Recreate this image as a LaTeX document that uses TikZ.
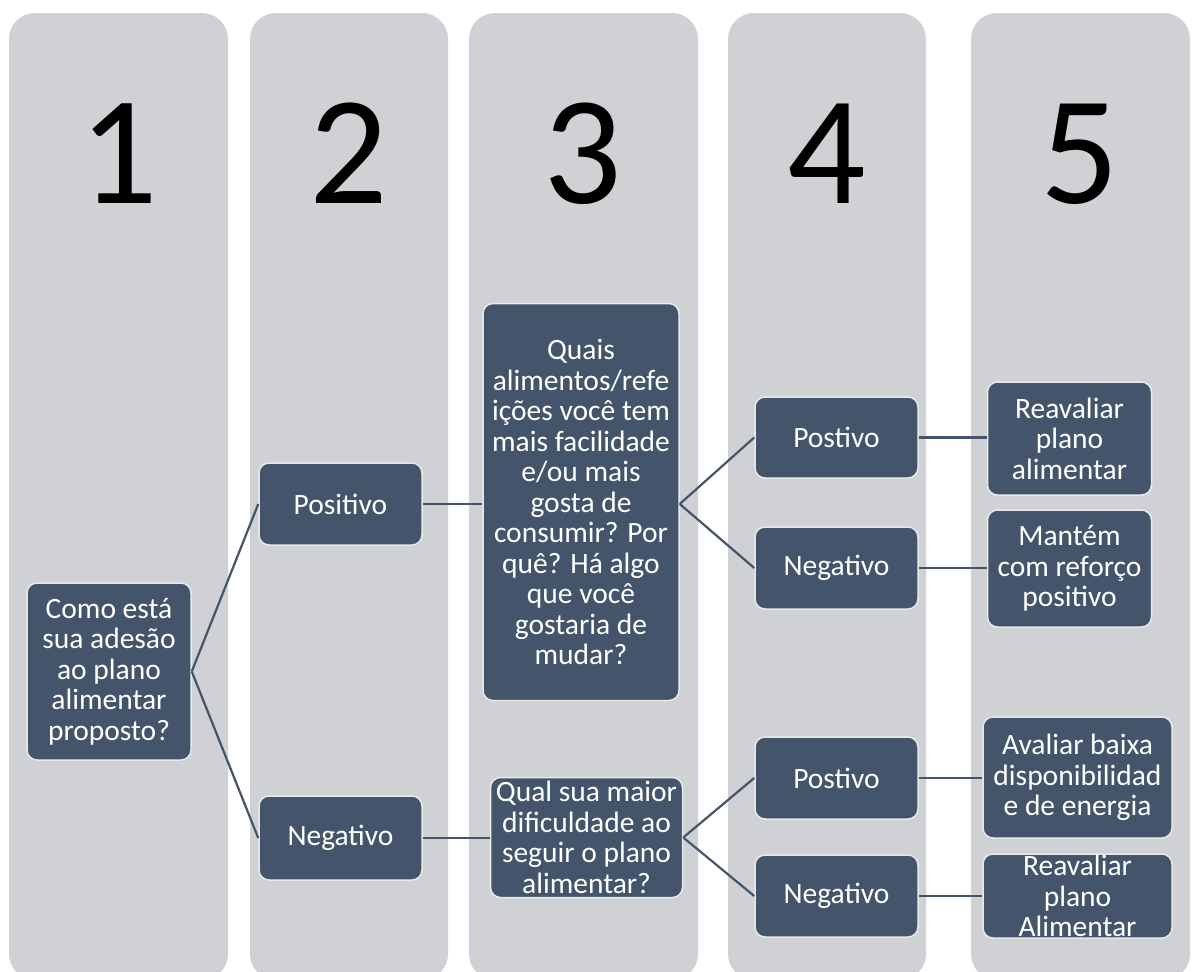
\documentclass[tikz,border=0pt]{standalone}
\usepackage{fontspec}
\setmainfont{Carlito}
\definecolor{lanebg}{RGB}{208,209,213}
\definecolor{boxfill}{HTML}{44546A}
\definecolor{boxedge}{RGB}{232,233,235}
\begin{document}
\begin{tikzpicture}[x=1pt,y=-1pt,
  lane/.style={fill=lanebg,draw=none,rounded corners=26pt},
  digit/.style={anchor=base,font=\fontsize{155}{155}\selectfont,text=black,inner sep=0pt},
  box/.style={fill=boxfill,draw=boxedge,line width=1.5pt,rounded corners=10pt,
    text=white,align=center,inner sep=0pt,font=\fontsize{29.5}{30.5}\selectfont},
  link/.style={draw=boxfill,line width=2.2pt}]
\useasboundingbox (0,0) rectangle (1195,972);

% columns
\fill[lane] (9,13) rectangle (228,980);
\fill[lane] (250,13) rectangle (448,980);
\fill[lane] (469,13) rectangle (698,980);
\fill[lane] (728,13) rectangle (926,980);
\fill[lane] (971,13) rectangle (1190,980);

% column numbers
\node[digit] (d1) at (119,203) {1};
\node[digit] (d2) at (349,203) {2};
\node[digit] (d3) at (583,203) {3};
\node[digit] (d4) at (827,203) {4};
\node[digit] (d5) at (1080,203) {5};

% boxes
\node[box,minimum width=164pt,minimum height=177pt] (q1) at (109,671.5)
  {Como está\\sua adesão\\ao plano\\alimentar\\proposto?};
\node[box,minimum width=163pt,minimum height=82pt] (pos) at (340.5,504) {Positivo};
\node[box,minimum width=163pt,minimum height=84pt] (neg) at (340.5,838) {Negativo};
\node[box,minimum width=196pt,minimum height=397pt] (q3) at (581,502)
  {Quais\\alimentos/refe\\ições você tem\\mais facilidade\\e/ou mais\\gosta de\\consumir? Por\\quê? Há algo\\que você\\gostaria de\\mudar?};
\node[box,minimum width=192pt,minimum height=120pt] (q3b) at (586.5,837.5)
  {Qual sua maior\\dificuldade ao\\seguir o plano\\alimentar?};
\node[box,minimum width=163pt,minimum height=81pt] (p1) at (836.5,437.5) {Postivo};
\node[box,minimum width=163pt,minimum height=82pt] (n1) at (836.5,568) {Negativo};
\node[box,minimum width=163pt,minimum height=82pt] (p2) at (836.5,778) {Postivo};
\node[box,minimum width=163pt,minimum height=82pt] (n2) at (836.5,896) {Negativo};
\node[box,minimum width=164pt,minimum height=113pt] (r1) at (1069.5,438.5)
  {Reavaliar\\plano\\alimentar};
\node[box,minimum width=164pt,minimum height=117pt] (m1) at (1069.5,568.5)
  {Mantém\\com reforço\\positivo};
\node[box,minimum width=189pt,minimum height=121pt] (a2) at (1077.5,777.5)
  {Avaliar baixa\\disponibilidad\\e de energia};
\node[box,minimum width=189pt,minimum height=84pt] (r2) at (1077.5,896)
  {Reavaliar\\plano\\Alimentar};

% connectors
\draw[link] (q1.east) -- (pos.west);
\draw[link] (q1.east) -- (neg.west);
\draw[link] (pos.east) -- (q3.west |- pos.east);
\draw[link] (neg.east) -- (q3b.west |- neg.east);
\draw[link] (q3.east |- pos.east) -- (p1.west);
\draw[link] (q3.east |- pos.east) -- (n1.west);
\draw[link] (q3b.east) -- (p2.west);
\draw[link] (q3b.east) -- (n2.west);
\draw[link] (p1.east) -- (r1.west |- p1.east);
\draw[link] (n1.east) -- (m1.west |- n1.east);
\draw[link] (p2.east) -- (a2.west |- p2.east);
\draw[link] (n2.east) -- (r2.west |- n2.east);
\end{tikzpicture}
\end{document}
